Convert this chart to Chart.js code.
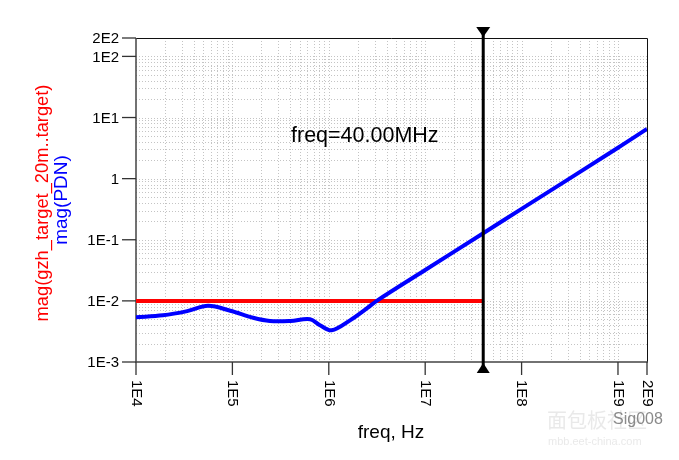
<!DOCTYPE html>
<html>
<head>
<meta charset="utf-8">
<script src="https://cdn.jsdelivr.net/npm/chart.js@4.4.1/dist/chart.umd.min.js"></script>
<style>
  html, body { margin: 0; padding: 0; background: #ffffff; }
  #wrap { position: relative; width: 679px; height: 460px; }
</style>
</head>
<body>
<div id="wrap"><canvas id="c" width="679" height="460"></canvas></div>
<script>
// ---- data ----
const pdnFreq = [1e4, 1.9e4, 3.4e4, 5.6e4, 9.5e4, 1.64e5, 2.45e5, 4.0e5, 6.4e5, 8.1e5, 1.07e6, 1.66e6, 2.5e6, 3.2e6, 1e7, 4e7, 1e8, 1e9, 2e9];
const pdnMag  = [0.0054, 0.0058, 0.0068, 0.0083, 0.0069, 0.0053, 0.0047, 0.0047, 0.0050, 0.0040, 0.0033, 0.0048, 0.0076, 0.0102, 0.032, 0.128, 0.32, 3.2, 6.5];
const targetFreq = [1e4, 4e7];
const targetMag  = [0.01, 0.01];
const markerFreq = 4e7;
const markerText = 'freq=40.00MHz';
const xTickValues = [1e4, 1e5, 1e6, 1e7, 1e8, 1e9, 2e9];
const xTickLabels = ['1E4', '1E5', '1E6', '1E7', '1E8', '1E9', '2E9'];
const yTickValues = [1e-3, 1e-2, 1e-1, 1, 1e1, 1e2, 2e2];
const yTickLabels = ['1E-3', '1E-2', '1E-1', '1', '1E1', '1E2', '2E2'];
const xTitle = 'freq, Hz';
const yTitleRed = 'mag(gzh_target_20m..target)';
const yTitleBlue = 'mag(PDN)';

const FONT = 'Arial, "Liberation Sans", sans-serif';

const toPts = (xs, ys) => xs.map((x, i) => ({ x: x, y: ys[i] }));

// grid positions (1..9 per decade)
function gridValues(minExp, maxExp, maxVal) {
  const out = [];
  for (let e = minExp; e <= maxExp; e++) {
    for (let m = 1; m <= 9; m++) {
      const v = m * Math.pow(10, e);
      if (v <= maxVal * 1.0001) out.push(v);
    }
  }
  return out;
}

const decorPlugin = {
  id: 'decor',
  beforeDatasetsDraw(chart) {
    const ctx = chart.ctx, a = chart.chartArea;
    const xs = chart.scales.x, ys = chart.scales.y;
    ctx.save();
    ctx.strokeStyle = '#c4c4c4';
    ctx.lineWidth = 1;
    ctx.setLineDash([1, 2]);
    gridValues(4, 9, 2e9).forEach(v => {
      const px = Math.round(xs.getPixelForValue(v)) + 0.5;
      if (px <= a.left + 1 || px >= a.right - 1) return;
      ctx.beginPath(); ctx.moveTo(px, a.top); ctx.lineTo(px, a.bottom); ctx.stroke();
    });
    gridValues(-3, 2, 2e2).forEach(v => {
      const py = Math.round(ys.getPixelForValue(v)) + 0.5;
      if (py <= a.top + 1 || py >= a.bottom - 1) return;
      ctx.beginPath(); ctx.moveTo(a.left, py); ctx.lineTo(a.right, py); ctx.stroke();
    });
    ctx.setLineDash([]);
    // border
    ctx.strokeStyle = '#111';
    ctx.lineWidth = 1;
    ctx.beginPath();
    ctx.moveTo(a.left, a.top + 0.5); ctx.lineTo(a.right + 0.5, a.top + 0.5); ctx.lineTo(a.right + 0.5, a.bottom);
    ctx.stroke();
    ctx.strokeStyle = '#444';
    ctx.lineWidth = 1.5;
    ctx.beginPath();
    ctx.moveTo(a.left, a.top); ctx.lineTo(a.left, a.bottom); ctx.lineTo(a.right + 1, a.bottom);
    ctx.stroke();
    ctx.restore();
  },
  afterDatasetsDraw(chart) {
    const ctx = chart.ctx, a = chart.chartArea;
    const xs = chart.scales.x, ys = chart.scales.y;
    ctx.save();
    // y ticks + labels
    ctx.strokeStyle = '#333';
    ctx.lineWidth = 1.3;
    ctx.fillStyle = '#000';
    ctx.font = '15px ' + FONT;
    ctx.textAlign = 'right';
    ctx.textBaseline = 'middle';
    yTickValues.forEach((v, i) => {
      const py = ys.getPixelForValue(v);
      ctx.beginPath(); ctx.moveTo(a.left - 14, py); ctx.lineTo(a.left, py); ctx.stroke();
      ctx.fillText(yTickLabels[i], a.left - 17, py + 1);
    });
    // x ticks + rotated labels
    xTickValues.forEach((v, i) => {
      const px = xs.getPixelForValue(v);
      ctx.beginPath(); ctx.moveTo(px, a.bottom); ctx.lineTo(px, a.bottom + 13); ctx.stroke();
      ctx.save();
      ctx.translate(px, a.bottom + 18);
      ctx.rotate(Math.PI / 2);
      ctx.textAlign = 'left';
      ctx.textBaseline = 'middle';
      ctx.fillText(xTickLabels[i], 0, 0);
      ctx.restore();
    });
    // marker
    const mx = xs.getPixelForValue(markerFreq);
    ctx.strokeStyle = '#000';
    ctx.lineWidth = 3;
    ctx.beginPath(); ctx.moveTo(mx, a.top - 6); ctx.lineTo(mx, a.bottom + 6); ctx.stroke();
    ctx.fillStyle = '#000';
    ctx.beginPath();
    ctx.moveTo(mx - 7, a.top - 11); ctx.lineTo(mx + 7, a.top - 11); ctx.lineTo(mx, a.top - 1); ctx.closePath(); ctx.fill();
    ctx.beginPath();
    ctx.moveTo(mx - 6.5, a.bottom + 11); ctx.lineTo(mx + 6.5, a.bottom + 11); ctx.lineTo(mx, a.bottom + 1); ctx.closePath(); ctx.fill();
    // marker text
    ctx.font = '21.5px ' + FONT;
    ctx.textAlign = 'left';
    ctx.textBaseline = 'alphabetic';
    ctx.fillText(markerText, 291, 142);
    // axis titles
    ctx.font = '19px ' + FONT;
    ctx.textAlign = 'center';
    ctx.fillText(xTitle, 391, 438);
    ctx.save();
    ctx.translate(43, 203);
    ctx.rotate(-Math.PI / 2);
    ctx.textBaseline = 'middle';
    ctx.fillStyle = '#ff0000';
    ctx.font = '18.3px ' + FONT;
    ctx.fillText(yTitleRed, 0, 0);
    ctx.restore();
    ctx.save();
    ctx.translate(62, 200);
    ctx.rotate(-Math.PI / 2);
    ctx.textBaseline = 'middle';
    ctx.fillStyle = '#0000ff';
    ctx.font = '19px ' + FONT;
    ctx.fillText(yTitleBlue, 0, 0);
    ctx.restore();
    // watermark
    ctx.textAlign = 'left';
    ctx.textBaseline = 'middle';
    ctx.font = '20px "Noto Sans CJK SC", sans-serif';
    ctx.fillStyle = 'rgba(215,215,215,0.55)';
    ctx.fillText('面包板社区', 547, 420);
    ctx.font = '11px ' + FONT;
    ctx.fillText('mbb.eet-china.com', 548, 442);
    ctx.font = '16px ' + FONT;
    ctx.fillStyle = '#8a8a8a';
    ctx.fillText('Sig008', 613, 420);
    ctx.restore();
  }
};

new Chart(document.getElementById('c'), {
  type: 'scatter',
  data: {
    datasets: [
      {
        label: 'target',
        data: toPts(targetFreq, targetMag),
        showLine: true,
        borderColor: '#ff0000',
        borderWidth: 4,
        pointRadius: 0,
        order: 2
      },
      {
        label: 'PDN',
        data: toPts(pdnFreq, pdnMag),
        showLine: true,
        borderColor: '#0000ff',
        borderWidth: 4,
        pointRadius: 0,
        tension: 0.35,
        borderJoinStyle: 'round',
        order: 1
      }
    ]
  },
  options: {
    responsive: false,
    animation: false,
    devicePixelRatio: 1,
    layout: { padding: { left: 136, right: 32, top: 38, bottom: 98 } },
    plugins: { legend: { display: false }, tooltip: { enabled: false } },
    scales: {
      x: { type: 'logarithmic', min: 1e4, max: 2e9, display: false },
      y: { type: 'logarithmic', min: 1e-3, max: 2e2, display: false }
    }
  },
  plugins: [decorPlugin]
});
</script>
</body>
</html>
